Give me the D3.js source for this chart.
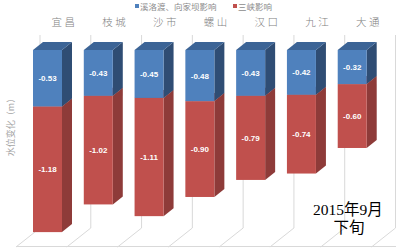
<!DOCTYPE html>
<html>
<head>
<meta charset="utf-8">
<script src="https://cdn.jsdelivr.net/npm/d3@7"></script>
<style>
body { margin: 0; background: #fff; }
</style>
</head>
<body>
<div class="chart"></div>
<script>
var w = 396, h = 248;

var categories = ['宜昌', '枝城', '沙市', '螺山', '汉口', '九江', '大通'];
var upstream = [0.53, 0.43, 0.45, 0.48, 0.43, 0.42, 0.32];   // 溪洛渡、向家坝影响
var threeGorges = [1.18, 1.02, 1.11, 0.90, 0.79, 0.74, 0.60]; // 三峡影响
var seriesNames = ['溪洛渡、向家坝影响', '三峡影响'];

var barW = 29, dx = 10, dy = 8, // bar depth offsets
	floorY = 228, floorFront = 247;

var x = d3.scaleBand().domain(categories).range([40, 395.5]);
var y = d3.scaleLinear().domain([0, 1.8]).range([50, 50 + 1.8 * 106.5]);

var svg = d3.select('.chart').append('svg')
			.attr('width', w)
			.attr('height', h)
			.style('font-family', 'Noto Sans CJK SC, sans-serif');

// back wall separators and floor
var lines = d3.range(0, categories.length + 1).map(function(i) {
	return 40 + i * x.step();
});
svg.selectAll('.vline')
	.data(lines)
	.enter().append('line')
		.attr('x1', function(d) { return d; })
		.attr('x2', function(d) { return d; })
		.attr('y1', 35)
		.attr('y2', floorY)
		.attr('stroke', '#d9d9d9');
svg.selectAll('.fline')
	.data(lines)
	.enter().append('line')
		.attr('x1', function(d) { return d; })
		.attr('x2', function(d) { return d - 24; })
		.attr('y1', floorY)
		.attr('y2', floorFront)
		.attr('stroke', '#d9d9d9');
svg.append('line')
	.attr('x1', 16).attr('x2', w)
	.attr('y1', floorFront - 0.5).attr('y2', floorFront - 0.5)
	.attr('stroke', '#d9d9d9');

// stacked 3d segments
var segs = [];
categories.forEach(function(c, i) {
	segs.push({ c: c, v0: upstream[i], v1: upstream[i] + threeGorges[i], val: threeGorges[i],
		front: '#c0504d', side: '#8e3b39', top: '#a54542' });
	segs.push({ c: c, v0: 0, v1: upstream[i], val: upstream[i],
		front: '#4f81bd', side: '#2f4d74', top: '#3c6496' });
});

var g = svg.selectAll('.seg')
			.data(segs)
		.enter().append('g');

function poly(pts) { return pts.map(function(p) { return p.join(','); }).join(' '); }

g.append('polygon')
	.attr('points', function(d) {
		var x0 = x(d.c) - 7 + barW, y0 = y(d.v0), y1 = y(d.v1);
		return poly([[x0, y0], [x0 + dx, y0 - dy], [x0 + dx, y1 - dy], [x0, y1]]);
	})
	.attr('fill', function(d) { return d.side; });
g.append('polygon')
	.attr('points', function(d) {
		var x0 = x(d.c) - 7, y0 = y(d.v0);
		return poly([[x0, y0], [x0 + dx, y0 - dy], [x0 + barW + dx, y0 - dy], [x0 + barW, y0]]);
	})
	.attr('fill', function(d) { return d.top; });
g.append('rect')
	.attr('x', function(d) { return x(d.c) - 7; })
	.attr('y', function(d) { return y(d.v0); })
	.attr('width', barW)
	.attr('height', function(d) { return y(d.v1) - y(d.v0); })
	.attr('fill', function(d) { return d.front; });
g.append('text')
	.attr('x', function(d) { return x(d.c) - 7 + barW / 2; })
	.attr('y', function(d) { return (y(d.v0) + y(d.v1)) / 2 + 3; })
	.attr('text-anchor', 'middle')
	.style('font-family', 'Liberation Sans, Arial, sans-serif')
	.style('font-weight', 'bold')
	.style('font-size', '8px')
	.attr('fill', '#fff')
	.text(function(d) { return '-' + d.val.toFixed(2); });

// category labels along the top
svg.selectAll('.cat')
	.data(categories)
	.enter().append('text')
		.attr('x', function(d) { return x(d) + x.bandwidth() / 2 - 1; })
		.attr('y', 26)
		.attr('text-anchor', 'middle')
		.style('font-size', '10.5px')
		.style('font-weight', '300')
		.style('letter-spacing', '2.5px')
		.attr('fill', '#7f7f7f')
		.text(function(d) { return d; });

// axis title
svg.append('text')
	.attr('transform', 'translate(14,125) rotate(-90)')
	.attr('text-anchor', 'middle')
	.style('font-size', '9px')
	.attr('fill', '#a6a6a6')
	.text('水位变化（m）');

// legend
var legend = svg.selectAll('.leg')
	.data(seriesNames)
	.enter().append('g')
		.attr('transform', function(d, i) { return 'translate(' + [135 + i * 98, 0] + ')'; });
legend.append('rect')
	.attr('y', 4).attr('width', 4).attr('height', 4)
	.attr('fill', function(d, i) { return i ? '#c0504d' : '#4f81bd'; });
legend.append('text')
	.attr('x', 5).attr('y', 9.5)
	.style('font-size', '8.5px')
	.attr('fill', '#8c8c8c')
	.text(function(d) { return d; });

// date note
svg.append('text')
	.attr('x', 348).attr('y', 215)
	.attr('text-anchor', 'middle')
	.style('font-family', 'Liberation Serif, Noto Sans CJK SC, serif')
	.style('font-size', '15.5px')
	.attr('fill', '#000')
	.text('2015年9月');
svg.append('text')
	.attr('x', 349).attr('y', 233)
	.attr('text-anchor', 'middle')
	.style('font-family', 'Liberation Serif, Noto Sans CJK SC, serif')
	.style('font-size', '15.5px')
	.attr('fill', '#000')
	.text('下旬');
</script>
</body>
</html>
